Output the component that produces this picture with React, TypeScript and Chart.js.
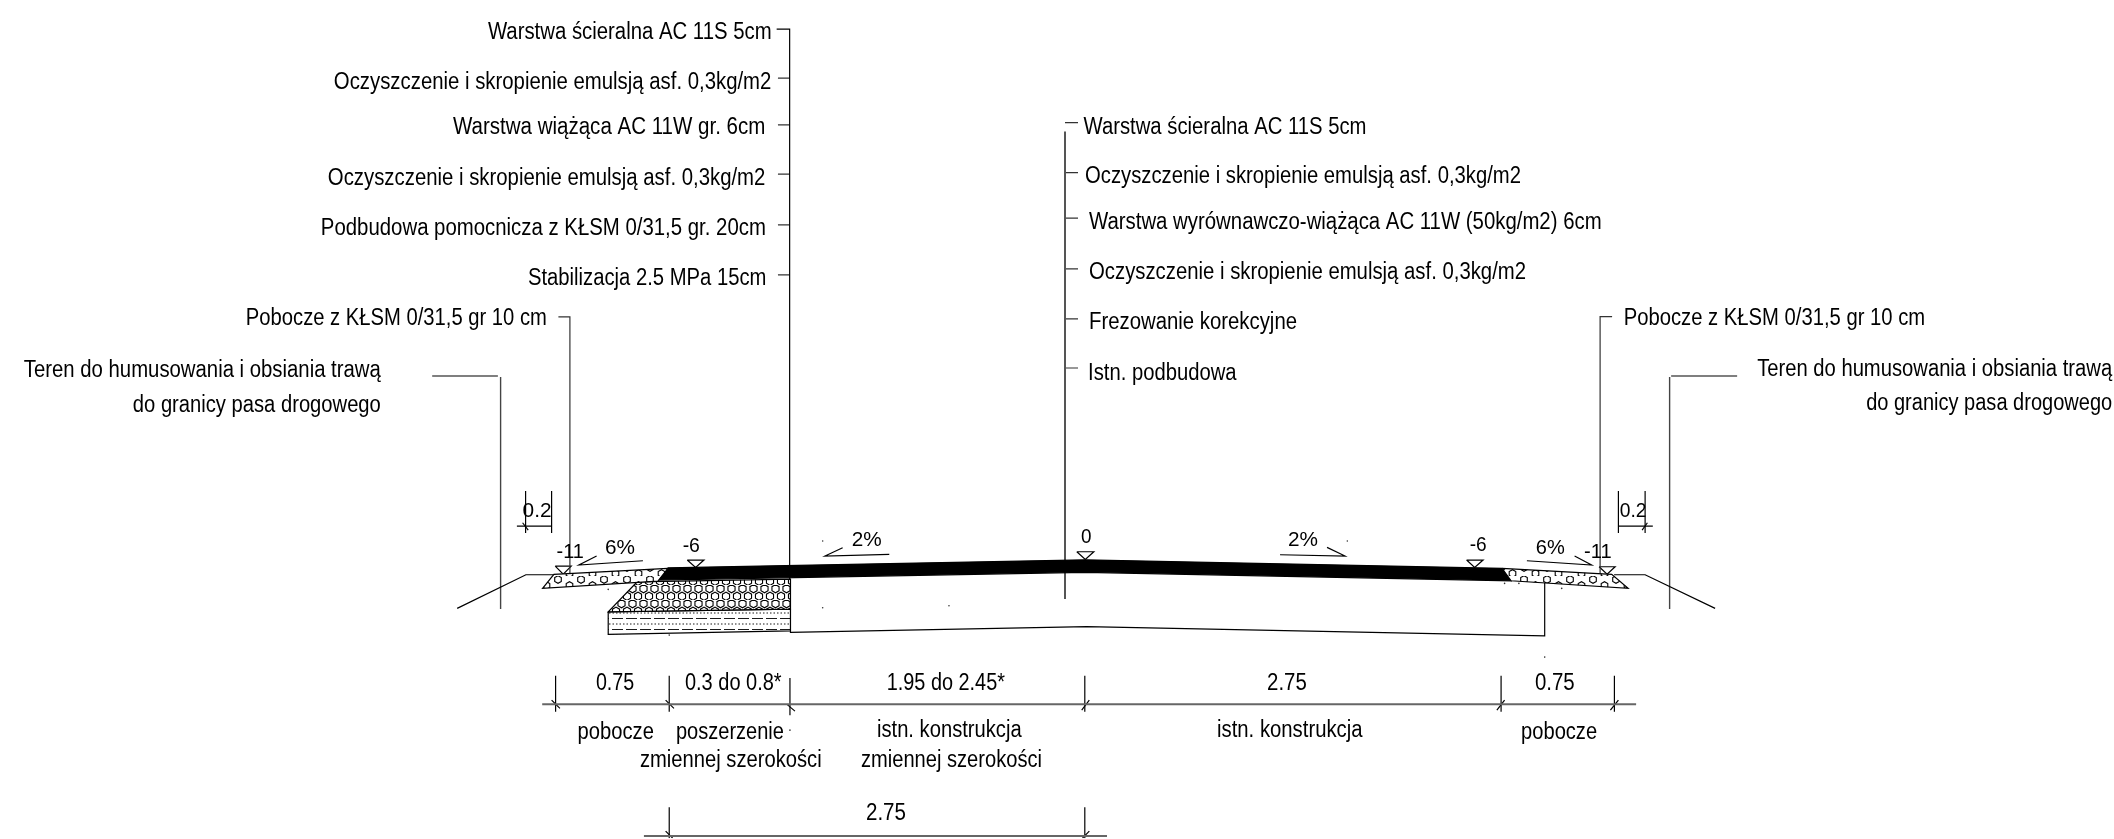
import React, { useEffect, useRef } from "react";
import { Chart, registerables } from "chart.js";

Chart.register(...registerables);

type P = [number, number];

const WIDTH = 2114;
const HEIGHT = 839;
// Chart.js insets the chart area by half of the widest dataset border; the axis
// ranges start and end at that inset so one drawing unit stays one pixel.
const AREA_INSET = 1;

// ---- cross-section geometry (drawing units) ----
const asphaltLayer: P[] = [[668, 567.8], [1085, 559.8], [1502, 568.3], [1511, 580.7], [1085, 572.3], [658, 580]];
const shoulderLeft: P[] = [[668, 568.3], [554, 574.3], [542.7, 588.3], [658, 581]];
const shoulderRight: P[] = [[1502, 568.3], [1611.6, 574.3], [1628, 588.3], [1511, 580.7]];
const subbaseLayer: P[] = [[637.3, 581.7], [790.5, 579], [790.5, 609], [608.3, 611.7]];
const stabilisedLayer: P[] = [[608.3, 611.7], [790.5, 609], [790.5, 630.7], [608.3, 634.3]];
const existingStructure: P[] = [[790.5, 579], [790.5, 632.3], [1086.7, 626.5], [1544.6, 635.7], [1544.6, 583]];
const groundLeft: P[] = [[457.3, 608.3], [526, 574.7], [554, 574.7]];
const groundRight: P[] = [[1614, 574.7], [1645, 574.7], [1715, 608.3]];

// ---- leader lines ----
const leaderMainLeft: P[] = [[776.7, 29.3], [789.7, 29.3], [789.7, 580]];
const leaderMainRight: P[] = [[1065, 131.7], [1065, 599]];
const leaderTicksLeftY = [78.3, 125, 174.3, 225, 275];
const leaderTicksRightY = [122.7, 172.7, 218.3, 269, 319, 368];
const leaderShoulderLeft: P[] = [[558.5, 317], [570, 317], [570, 577]];
const leaderShoulderRight: P[] = [[1612, 316.7], [1600, 316.7], [1600, 574]];
const leaderTerrainLeft: P[] = [[432.3, 376], [498, 376]];
const leaderTerrainLeftDrop: P[] = [[500.7, 377], [500.7, 609]];
const leaderTerrainRight: P[] = [[1737, 376], [1671, 376]];
const leaderTerrainRightDrop: P[] = [[1669.5, 377], [1669.5, 609]];

// ---- elevation triangles and slope marks ----
const triangles: P[][] = [
  [[555.3, 566], [571.3, 566], [563.3, 574], [555.3, 566]],
  [[687.3, 560], [704, 560], [695.7, 567.3], [687.3, 560]],
  [[1076.8, 551.7], [1093.8, 551.7], [1085.3, 559.3], [1076.8, 551.7]],
  [[1466.5, 560], [1483, 560], [1474.6, 567.3], [1466.5, 560]],
  [[1599, 566.7], [1615, 566.7], [1607, 574], [1599, 566.7]],
];
const slopeMarks: P[][] = [
  [[596.7, 556], [579, 565], [643, 560.7]],
  [[842.7, 547.7], [825, 556], [889.3, 554.3]],
  [[1327, 547.3], [1345, 556], [1280, 554.7]],
  [[1574.5, 556], [1591.5, 565], [1526.8, 560.7]],
];

// ---- dimension lines ----
const dimRowA: P[] = [[542.3, 704], [1636, 704]];
const dimRowB: P[] = [[644, 835.7], [1107, 835.7]];
const dimA02Left: P[][] = [
  [[525.7, 491], [525.7, 533]],
  [[551.7, 491], [551.7, 533]],
  [[517, 526], [552, 526]],
  [[522.7, 522.7], [528.3, 530]],
];
const dimA02Right: P[][] = [
  [[1618.3, 491], [1618.3, 533]],
  [[1645, 491], [1645, 533]],
  [[1618, 526], [1652.7, 526]],
  [[1642, 530], [1647.3, 522.7]],
];
const dimTicks: P[][] = [
  [[555.7, 675.7], [555.7, 711.7]],
  [[669.3, 675.7], [669.3, 711.7]],
  [[790, 678], [790, 715]],
  [[1084.8, 675.7], [1084.8, 711.7]],
  [[1501, 675.7], [1501, 711.7]],
  [[1614.3, 675.7], [1614.3, 711.7]],
  [[669.3, 807], [669.3, 838]],
  [[1084.8, 807], [1084.8, 838]],
  [[551.7, 700], [560, 708.3]],
  [[665.7, 700], [674, 708.3]],
  [[786.7, 704], [795, 711]],
  [[1081.7, 710], [1089.3, 700]],
  [[1496.8, 710], [1504.5, 700]],
  [[1610.3, 710], [1618.3, 700]],
  [[665.7, 831], [672.7, 838]],
  [[1082.5, 838], [1089.3, 831]],
];
const specks: P[] = [
  [822.7, 541], [822.7, 607.7], [790, 730], [608.3, 589.3], [669.3, 635], [949, 605.7],
  [1347.3, 541], [1544.6, 657], [1504.5, 583.3], [1518.8, 583.3], [1561.6, 588.3],
];

// ---- text ----
const calloutTexts = [
  "Warstwa ścieralna AC 11S 5cm",
  "Oczyszczenie i skropienie emulsją asf. 0,3kg/m2",
  "Warstwa wiążąca AC 11W gr. 6cm",
  "Oczyszczenie i skropienie emulsją asf. 0,3kg/m2",
  "Podbudowa pomocnicza z KŁSM 0/31,5 gr. 20cm",
  "Stabilizacja 2.5 MPa 15cm",
  "Pobocze z KŁSM 0/31,5 gr 10 cm",
  "Teren do humusowania i obsiania trawą",
  "do granicy pasa drogowego",
  "Warstwa ścieralna AC 11S 5cm",
  "Oczyszczenie i skropienie emulsją asf. 0,3kg/m2",
  "Warstwa wyrównawczo-wiążąca AC 11W (50kg/m2) 6cm",
  "Oczyszczenie i skropienie emulsją asf. 0,3kg/m2",
  "Frezowanie korekcyjne",
  "Istn. podbudowa",
  "Pobocze z KŁSM 0/31,5 gr 10 cm",
  "Teren do humusowania i obsiania trawą",
  "do granicy pasa drogowego",
];
// x-start, baseline, width for each callout
const calloutBoxes: [number, number, number][] = [
  [488, 39.3, 283.7], [334, 89, 437.5], [453, 134, 312.5], [328, 185, 437.5], [321, 235, 445], [528, 285, 238.5],
  [246, 325, 301], [24, 377.5, 357], [133, 412.5, 248],
  [1083.5, 134, 283], [1085, 182.7, 436], [1089, 229, 512.6], [1089, 279, 437], [1089, 329, 208], [1088, 380, 148.6],
  [1623.6, 325, 301.4], [1757, 376.5, 355], [1866, 410.5, 246],
];
const dimensionTexts = [
  "0.75", "0.3 do 0.8*", "1.95 do 2.45*", "2.75", "0.75",
  "pobocze", "poszerzenie", "zmiennej szerokości", "istn. konstrukcja", "zmiennej szerokości", "istn. konstrukcja", "pobocze", "2.75",
];
const dimensionBoxes: [number, number, number][] = [
  [596, 690, 38.3], [685, 690, 96.7], [886.7, 690, 118.3], [1267, 690, 39.7], [1534.8, 690, 39.8],
  [577.7, 739.3, 76.3], [676, 739.3, 108], [640, 766.7, 181.7], [877, 736.7, 144.7], [861, 766.7, 181], [1217, 736.7, 145.5], [1521, 739, 76], [866, 820, 40],
];
const markTexts = ["0.2", "-11", "6%", "-6", "2%", "0", "2%", "-6", "6%", "-11", "0.2"];
const markBoxes: [number, number, number][] = [
  [522.7, 516.7, 29], [556.7, 558, 27.3], [605, 554, 30], [682.7, 551.7, 17.3], [851.7, 546, 30],
  [1081, 542.7, 10.5], [1288, 546, 30], [1469.6, 550.7, 17], [1535.7, 554, 29], [1584, 558, 27.6], [1619.6, 516.7, 26.8],
];

function makePattern(size: [number, number], draw: (c: CanvasRenderingContext2D) => void): CanvasPattern {
  const cv = document.createElement("canvas");
  cv.width = size[0];
  cv.height = size[1];
  const c = cv.getContext("2d")!;
  c.fillStyle = "#fff";
  c.fillRect(0, 0, size[0], size[1]);
  c.strokeStyle = "#000";
  c.lineWidth = 1.1;
  draw(c);
  return c.createPattern(cv, "repeat")!;
}

function hex(c: CanvasRenderingContext2D, x: number, y: number, r: number) {
  c.beginPath();
  for (let i = 0; i < 6; i++) {
    const a = (Math.PI / 3) * i + Math.PI / 6;
    const px = x + r * Math.cos(a);
    const py = y + r * Math.sin(a);
    if (i === 0) c.moveTo(px, py);
    else c.lineTo(px, py);
  }
  c.closePath();
  c.stroke();
}

const toXY = (pts: P[]) => pts.map(([x, y]) => ({ x, y }));

export default function App() {
  const ref = useRef<HTMLCanvasElement>(null);
  useEffect(() => {
    const shoulderPat = makePattern([23, 12], (c) => {
      hex(c, 6, 3.5, 3.8);
      hex(c, 17.5, 9.5, 3.8);
    });
    const subbasePat = makePattern([11, 15], (c) => {
      hex(c, 5.5, 3.7, 4.1);
      hex(c, 0, 11.2, 4.1);
      hex(c, 11, 11.2, 4.1);
    });
    const stabPat = makePattern([14, 11], (c) => {
      c.lineWidth = 0.9;
      c.setLineDash([7, 3]);
      c.beginPath();
      c.moveTo(0, 2.5); c.lineTo(14, 2.5);
      c.stroke();
      c.setLineDash([1.5, 2]);
      c.beginPath();
      c.moveTo(0, 8); c.lineTo(14, 8);
      c.stroke();
    });

    const line = (pts: P[], color = "#000", width = 1.2) => ({
      data: toXY(pts),
      showLine: true,
      borderColor: color,
      borderWidth: width,
      pointRadius: 0,
      pointHoverRadius: 0,
      fill: false,
      tension: 0,
    });
    const shape = (pts: P[], bg: string | CanvasPattern, color = "#000") => ({
      data: toXY([...pts, pts[0]]),
      showLine: true,
      borderColor: color,
      borderWidth: 1.2,
      pointRadius: 0,
      pointHoverRadius: 0,
      backgroundColor: bg,
      fill: "shape",
      tension: 0,
    });

    const textPlugin = {
      id: "drawingText",
      afterDatasetsDraw(chart: any) {
        const { ctx, scales } = chart;
        const put = (texts: string[], boxes: [number, number, number][], size: number) => {
          ctx.save();
          ctx.fillStyle = "#000";
          ctx.textAlign = "left";
          ctx.textBaseline = "alphabetic";
          ctx.font = `${size}px "Liberation Sans", Arial, sans-serif`;
          texts.forEach((t, i) => {
            const [x, y, w] = boxes[i];
            ctx.fillText(t, scales.x.getPixelForValue(x), scales.y.getPixelForValue(y), w);
          });
          ctx.restore();
        };
        put(calloutTexts, calloutBoxes, 23);
        put(dimensionTexts, dimensionBoxes, 23);
        put(markTexts, markBoxes, 21);
      },
    };

    const chart = new Chart(ref.current!, {
      type: "scatter",
      data: {
        datasets: [
          shape(shoulderLeft, shoulderPat),
          shape(shoulderRight, shoulderPat),
          shape(subbaseLayer, subbasePat),
          shape(stabilisedLayer, stabPat),
          shape(asphaltLayer, "#000"),
          line(existingStructure),
          line(groundLeft),
          line(groundRight),
          line(leaderMainLeft),
          line(leaderMainRight, "#555", 2),
          ...leaderTicksLeftY.map((y) => line([[778, y], [789.7, y]] as P[], "#333")),
          ...leaderTicksRightY.map((y) => line([[1065, y], [1078, y]] as P[], "#333")),
          line(leaderShoulderLeft, "#333"),
          line(leaderShoulderRight, "#333"),
          line(leaderTerrainLeft),
          line(leaderTerrainLeftDrop, "#444", 1.4),
          line(leaderTerrainRight),
          line(leaderTerrainRightDrop, "#444", 1.4),
          ...triangles.map((t) => line(t)),
          ...slopeMarks.map((t) => line(t)),
          line(dimRowA, "#666", 2),
          line(dimRowB, "#666", 2),
          ...dimA02Left.map((t) => line(t)),
          ...dimA02Right.map((t) => line(t)),
          ...dimTicks.map((t) => line(t)),
          {
            data: toXY(specks),
            showLine: false,
            pointRadius: 0.8,
            pointHoverRadius: 0.8,
            pointBackgroundColor: "#333",
            pointBorderWidth: 0,
          },
        ] as any,
      },
      options: {
        animation: false,
        responsive: false,
        devicePixelRatio: 1,
        layout: { padding: 0 },
        plugins: { legend: { display: false }, tooltip: { enabled: false }, title: { display: false } },
        scales: {
          x: { type: "linear", min: AREA_INSET, max: WIDTH - AREA_INSET, display: false },
          y: { type: "linear", min: AREA_INSET, max: HEIGHT - AREA_INSET, reverse: true, display: false },
        },
      },
      plugins: [textPlugin],
    });
    return () => chart.destroy();
  }, []);
  return (
    <div style={{ position: "fixed", left: 0, top: 0, width: WIDTH, height: HEIGHT, background: "#fff" }}>
      <canvas ref={ref} width={WIDTH} height={HEIGHT} style={{ display: "block" }} />
    </div>
  );
}
